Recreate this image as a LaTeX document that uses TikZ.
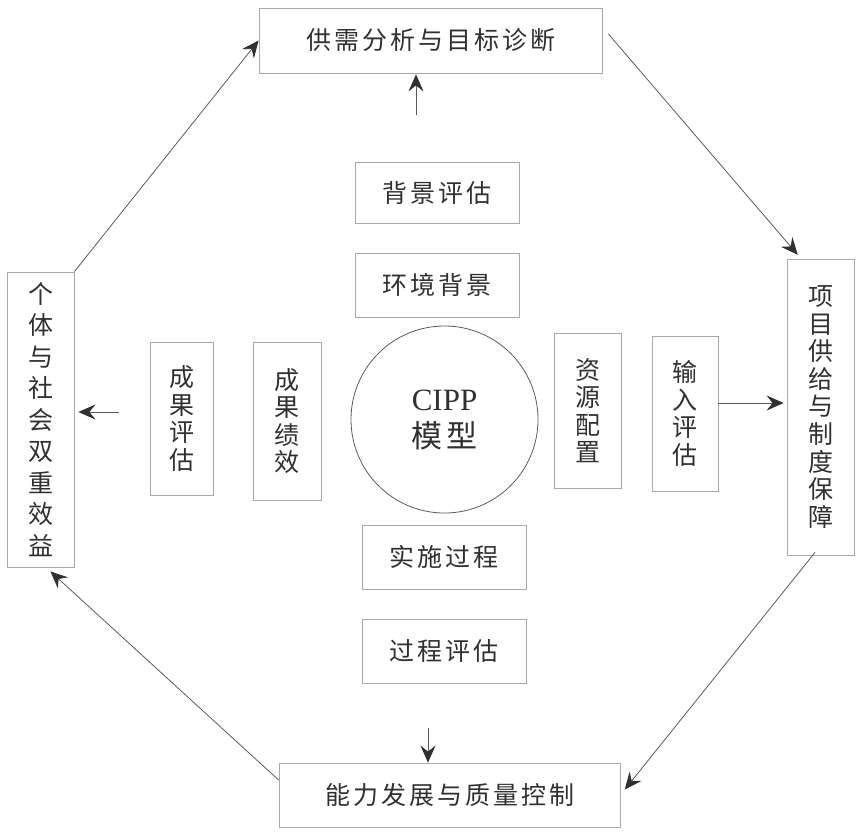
\documentclass[tikz,border=0pt]{standalone}
\usepackage{fontspec}
\setmainfont{Liberation Serif}
\newfontfamily\cjk{Noto Sans CJK SC}
\usetikzlibrary{arrows.meta}
\definecolor{boxgray}{HTML}{A8A8A8}
\definecolor{linegray}{HTML}{5A5A5A}
\definecolor{txt}{HTML}{303030}
\makeatletter
\def\spcgap{3pt}
\def\spc#1{\spc@i#1\relax}
\def\spc@i#1#2{#1\ifx\relax#2\else\hspace{\spcgap}\expandafter\spc@i\expandafter#2\fi}
\makeatother
\tikzset{
  box/.style={draw=boxgray, line width=0.8pt, inner sep=0pt, text=txt,
    font=\cjk\fontsize{25}{27.5}\selectfont, align=center},
  arr/.style={draw=linegray, line width=0.8pt,
    -{Stealth[length=17pt,width=15pt,inset=6pt,color=txt]}},
}
\begin{document}
\begin{tikzpicture}[x=1pt,y=-1pt]
\useasboundingbox (0,0) rectangle (858,831);
% outer boxes
\node[box, minimum width=343pt, minimum height=65pt] (top) at (430.5,40.5) {\spc{供需分析与目标诊断}};
\node[box, minimum width=341pt, minimum height=64pt] (bottom) at (449.5,795) {\spc{能力发展与质量控制}};
\node[box, minimum width=67pt, minimum height=295pt, font=\cjk\fontsize{25}{31.5}\selectfont] (left) at (40.5,419.5) {个\\体\\与\\社\\会\\双\\重\\效\\益};
\node[box, minimum width=67pt, minimum height=296pt, font=\cjk\fontsize{25}{27.6}\selectfont] (right) at (820.5,407) {项\\目\\供\\给\\与\\制\\度\\保\\障};
% inner boxes
\node[box, minimum width=164pt, minimum height=61pt] (bjpg) at (437,192.5) {\spc{背景评估}};
\node[box, minimum width=164pt, minimum height=64pt] (hjbj) at (437,285) {\spc{环境背景}};
\node[box, minimum width=164pt, minimum height=64pt] (sshg) at (444,557) {\spc{实施过程}};
\node[box, minimum width=164pt, minimum height=64pt] (gcpg) at (444,651) {\spc{过程评估}};
\node[box, minimum width=63pt, minimum height=153pt] (cgpg) at (181.5,418.5) {成\\果\\评\\估};
\node[box, minimum width=68pt, minimum height=158pt] (cgjx) at (287,421) {成\\果\\绩\\效};
\node[box, minimum width=67pt, minimum height=155pt] (zypz) at (587.5,410.5) {资\\源\\配\\置};
\node[box, minimum width=66pt, minimum height=155pt] (srpg) at (685,413.5) {输\\入\\评\\估};
% circle
\node[draw=linegray, line width=0.8pt, circle, minimum size=187pt, inner sep=0pt,
  text=txt, align=center, font=\fontsize{31}{37}\selectfont] (cipp) at (444.5,419.5)
  {CIPP\\{\cjk\def\spcgap{5pt}\spc{模型}}};
% short arrows
\coordinate (u0) at (416,115);
\draw[arr, shorten >=1pt] (u0) -- (u0 |- top.south);
\coordinate (r0) at (718,403);
\draw[arr, shorten >=3pt] (r0) -- (r0 -| right.west);
\coordinate (l0) at (119,412);
\draw[arr, shorten >=4pt] (l0) -- (l0 -| left.east);
\coordinate (d0) at (428,728);
\draw[arr] (d0) -- (d0 |- bottom.north);
% octagon arrows
\draw[arr] (left.north east) -- (top.west);
\draw[arr, shorten >=5pt] ([xshift=6pt,yshift=6.5pt]top.east) -- ([xshift=-19.5pt]right.north);
\draw[arr, shorten >=7pt] ([xshift=-5.5pt,yshift=3pt]right.south) -- (bottom.east);
\draw[arr, shorten >=6pt] ([yshift=15pt]bottom.west) -- ([xshift=5.5pt]left.south);
\end{tikzpicture}
\end{document}
